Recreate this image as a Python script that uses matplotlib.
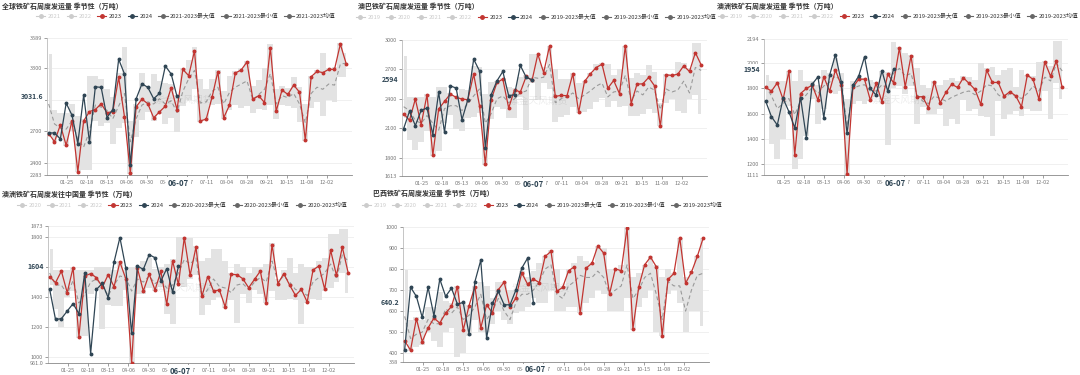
import numpy as np
import pandas as pd
import matplotlib
matplotlib.use("Agg")
import matplotlib.pyplot as plt
import matplotlib.dates as mdates
from matplotlib.lines import Line2D
from matplotlib.transforms import offset_copy

plt.rcParams['font.family'] = ['Noto Sans CJK SC', 'DejaVu Sans']

# ---------------- data ----------------
week_dates = pd.date_range('2024-01-03', periods=52, freq='7D')
xtick_labels = ['01-25', '02-18', '03-13', '04-06', '04-30', '05-24', '06-17',
                '07-11', '08-04', '08-28', '09-21', '10-15', '11-08', '12-02']
pointer_date = '06-07'

titles = ['全球铁矿石周度发运量 季节性（万吨）', '澳巴铁矿石周度发运量 季节性（万吨）',
          '澳洲铁矿石周度发运量 季节性（万吨）', '澳洲铁矿石周度发往中国量 季节性（万吨）',
          '巴西铁矿石周度发运量 季节性（万吨）']
legend_years = [['2021', '2022'], ['2019', '2020', '2021', '2022'], ['2019', '2020', '2021', '2022'],
                ['2020', '2021', '2022'], ['2019', '2020', '2021', '2022']]
range_labels = ['2021-2023', '2019-2023', '2019-2023', '2020-2023', '2019-2023']

# 全球
gl_2023 = [2678, 2601, 2760, 2566, 2799, 2314, 2799, 2888, 2907, 2962, 2876, 2888, 3214, 2837, 2301, 2933,
           3006, 2962, 2828, 2885, 2939, 3115, 2907, 3290, 3230, 3466, 2799, 2815, 3022, 3268, 2828, 2949,
           3255, 3284, 3361, 3006, 3038, 2974, 3498, 2891, 3093, 3051, 3140, 3073, 2614, 3220, 3271, 3259,
           3290, 3290, 3530, 3345]
gl_2024 = [2684, 2684, 2627, 2968, 2853, 2582, 3045, 2595, 3124, 3118, 2831, 2907, 3386, 3246, 2381, 3010,
           3153, 3118, 3010, 3061, 3322, 3246, 3031.6]
gl_max = [3440, 2900, 2870, 2870, 2960, 2850, 2820, 3230, 3230, 3200, 3100, 3030, 3260, 3500, 2800, 2960,
          3260, 3120, 3250, 3180, 3160, 3150, 3050, 3300, 3380, 3500, 3200, 3100, 3200, 3280, 3080, 3230,
          3270, 3300, 3370, 3130, 3190, 3300, 3530, 3100, 3130, 3110, 3220, 3120, 2960, 3230, 3280, 3450,
          3300, 3310, 3540, 3450]
gl_min = [2670, 2600, 2640, 2560, 2700, 2310, 2330, 2330, 2800, 2750, 2780, 2580, 2730, 2780, 2290, 2650,
          2810, 2880, 2800, 2860, 2770, 2830, 2690, 2940, 3000, 3100, 2790, 2810, 2950, 2960, 2820, 2900,
          2950, 2920, 2940, 2870, 2910, 2900, 2950, 2820, 2950, 2940, 2920, 2790, 2610, 2920, 2980, 2850,
          3000, 2980, 3220, 3220]
gl_mean = [2960, 2770, 2730, 2720, 2800, 2620, 2550, 2700, 2950, 2930, 2900, 2820, 2940, 3060, 2600, 2820,
           2950, 2980, 2960, 3010, 2960, 2990, 2880, 3080, 3200, 3280, 2970, 2980, 3080, 3120, 2960, 3070,
           3120, 3150, 3180, 3000, 3050, 3100, 3250, 2960, 3040, 3020, 3060, 2960, 2780, 3060, 3120, 3100,
           3150, 3140, 3340, 3350]

# 澳巴
ab_2023 = [2249, 2181, 2398, 2137, 2442, 1826, 2296, 2374, 2449, 2415, 2398, 2391, 2652, 2330, 1731, 2391,
           2567, 2601, 2306, 2493, 2469, 2628, 2587, 2855, 2668, 2939, 2425, 2435, 2432, 2655, 2263, 2577,
           2655, 2719, 2753, 2509, 2587, 2452, 2939, 2350, 2550, 2553, 2618, 2533, 2120, 2645, 2638, 2652,
           2736, 2679, 2871, 2746]
ab_2024 = [2097, 2273, 2127, 2283, 2306, 2036, 2466, 2060, 2533, 2509, 2188, 2391, 2804, 2685, 1901, 2442,
           2584, 2679, 2432, 2442, 2740, 2621, 2594]
ab_max = [2840, 2420, 2420, 2420, 2450, 2420, 2520, 2520, 2460, 2430, 2500, 2490, 2730, 2720, 2450, 2570,
          2580, 2610, 2520, 2510, 2620, 2640, 2860, 2860, 2720, 2940, 2700, 2600, 2600, 2660, 2560, 2580,
          2660, 2760, 2770, 2760, 2640, 2700, 2940, 2610, 2660, 2640, 2740, 2670, 2360, 2650, 2650, 2780,
          2770, 2710, 2970, 2970]
ab_min = [2200, 1980, 1880, 1960, 2070, 1820, 1870, 2150, 2240, 2090, 2070, 2200, 2210, 2260, 1730, 2190,
          2320, 2300, 2200, 2200, 2420, 2080, 2560, 2390, 2560, 2500, 2160, 2210, 2240, 2320, 2260, 2270,
          2300, 2370, 2410, 2320, 2380, 2320, 2330, 2230, 2220, 2250, 2300, 2260, 2120, 2360, 2400, 2280,
          2260, 2400, 2440, 2250]
ab_mean = [2320, 2280, 2180, 2150, 2230, 2150, 2080, 2300, 2330, 2330, 2280, 2350, 2430, 2500, 2150, 2250,
           2400, 2430, 2360, 2400, 2460, 2480, 2620, 2610, 2620, 2750, 2360, 2400, 2420, 2460, 2400, 2440,
           2480, 2530, 2560, 2420, 2470, 2480, 2640, 2380, 2480, 2440, 2520, 2490, 2290, 2500, 2470, 2490,
           2580, 2460, 2720, 2690]

# 澳洲
au_2023 = [1808, 1779, 1845, 1713, 1938, 1270, 1760, 1800, 1826, 1707, 1893, 1779, 1946, 1826, 1117, 1808,
           1874, 1874, 1707, 1840, 1694, 1914, 1845, 2123, 1813, 2060, 1734, 1734, 1646, 1853, 1686, 1768,
           1834, 1808, 1885, 1840, 1792, 1673, 1946, 1848, 1848, 1739, 1774, 1742, 1654, 1906, 1872, 1715,
           2012, 1898, 2020, 1808]
au_2024 = [1699, 1575, 1509, 1721, 1615, 1487, 1728, 1408, 1834, 1893, 1567, 1906, 2070, 1853, 1442, 1826,
           1898, 2052, 1800, 1747, 1940, 1779, 1954]
au_max = [1910, 1860, 1860, 1860, 1940, 1860, 1950, 1860, 1860, 1830, 1950, 1920, 2040, 1920, 1720, 1860,
          1880, 1880, 1870, 1850, 1940, 1930, 2170, 2130, 2080, 2070, 1960, 1830, 1800, 1860, 1830, 1870,
          1880, 1860, 1900, 1890, 1870, 2000, 1960, 1970, 1910, 1950, 1960, 1810, 1950, 1910, 1900, 2010,
          2020, 1980, 2180, 2180]
au_min = [1680, 1360, 1240, 1400, 1660, 1160, 1240, 1420, 1720, 1520, 1640, 1770, 1760, 1780, 1111, 1680,
          1700, 1680, 1700, 1730, 1690, 1350, 1800, 1820, 1760, 1820, 1520, 1650, 1600, 1600, 1640, 1500,
          1560, 1520, 1710, 1620, 1640, 1580, 1570, 1420, 1700, 1560, 1600, 1620, 1580, 1640, 1620, 1620,
          1780, 1560, 1840, 1720]
au_mean = [1820, 1740, 1640, 1680, 1720, 1590, 1700, 1750, 1810, 1760, 1820, 1850, 1900, 1860, 1500, 1800,
           1820, 1830, 1780, 1780, 1830, 1800, 1920, 1960, 1900, 1920, 1750, 1700, 1680, 1740, 1720, 1700,
           1730, 1750, 1770, 1780, 1750, 1780, 1830, 1820, 1750, 1720, 1760, 1740, 1720, 1760, 1820, 1780,
           1890, 1860, 2000, 1940]

# 澳洲发往中国
ac_2023 = [1536, 1496, 1573, 1429, 1596, 1136, 1540, 1556, 1529, 1467, 1549, 1469, 1633, 1522, 962, 1591,
           1440, 1553, 1447, 1571, 1351, 1640, 1484, 1796, 1544, 1733, 1404, 1536, 1440, 1447, 1333, 1551,
           1549, 1522, 1462, 1518, 1573, 1362, 1749, 1489, 1556, 1480, 1411, 1451, 1367, 1580, 1607, 1451,
           1713, 1544, 1733, 1562]
ac_2024 = [1451, 1251, 1256, 1307, 1356, 1289, 1562, 1024, 1451, 1491, 1396, 1633, 1796, 1596, 1158, 1607,
           1584, 1682, 1662, 1507, 1589, 1433, 1604]
ac_max = [1720, 1580, 1580, 1580, 1600, 1580, 1580, 1580, 1600, 1600, 1600, 1580, 1640, 1580, 1600, 1600,
          1640, 1660, 1590, 1600, 1620, 1650, 1800, 1800, 1790, 1740, 1640, 1660, 1720, 1720, 1640, 1560,
          1620, 1600, 1560, 1600, 1600, 1620, 1760, 1520, 1580, 1660, 1560, 1620, 1600, 1600, 1640, 1660,
          1820, 1820, 1850, 1850]
ac_min = [1480, 1320, 1200, 1400, 1440, 1130, 1140, 1420, 1460, 1190, 1350, 1340, 1340, 1450, 961, 1420,
          1420, 1460, 1440, 1470, 1290, 1220, 1480, 1470, 1520, 1550, 1280, 1350, 1380, 1400, 1330, 1380,
          1230, 1420, 1360, 1450, 1420, 1360, 1440, 1380, 1380, 1390, 1380, 1220, 1360, 1390, 1380, 1440,
          1460, 1500, 1560, 1430]
ac_mean = [1560, 1480, 1480, 1420, 1510, 1360, 1420, 1500, 1520, 1470, 1410, 1480, 1540, 1530, 1440, 1520,
           1500, 1540, 1490, 1510, 1460, 1480, 1560, 1650, 1620, 1660, 1400, 1450, 1520, 1470, 1460, 1430,
           1480, 1490, 1450, 1500, 1530, 1500, 1640, 1500, 1540, 1500, 1450, 1440, 1410, 1500, 1530, 1560,
           1620, 1520, 1680, 1640]

# 巴西
br_2023 = [459, 414, 564, 455, 520, 567, 543, 591, 622, 717, 509, 626, 717, 520, 630, 591, 702, 738, 619, 662,
           782, 728, 752, 736, 860, 884, 694, 713, 792, 811, 591, 804, 828, 910, 876, 681, 801, 792, 997, 516,
           716, 820, 857, 811, 482, 751, 779, 950, 733, 785, 860, 947]
br_2024 = [417, 714, 670, 570, 713, 578, 752, 670, 709, 634, 641, 490, 740, 842, 471, 638, 694, 630, 630, 700,
           804, 852, 640.2]
br_max = [795, 560, 570, 560, 620, 620, 690, 650, 640, 720, 640, 630, 720, 740, 720, 660, 740, 740, 700, 700,
          790, 760, 790, 830, 860, 890, 800, 720, 800, 830, 860, 840, 830, 910, 900, 800, 800, 820, 1000, 760,
          780, 820, 860, 820, 760, 800, 780, 950, 760, 790, 860, 950]
br_min = [450, 410, 430, 440, 500, 460, 430, 500, 520, 380, 400, 480, 560, 500, 500, 540, 600, 560, 540, 590,
          600, 620, 660, 640, 640, 700, 600, 600, 620, 620, 590, 640, 660, 700, 680, 600, 600, 600, 660, 510,
          620, 660, 700, 500, 480, 680, 700, 640, 500, 600, 600, 530]
br_mean = [575, 470, 490, 500, 560, 540, 540, 610, 590, 620, 560, 580, 620, 680, 560, 600, 660, 600, 560, 640,
           680, 680, 700, 740, 800, 820, 680, 660, 720, 740, 770, 760, 760, 790, 760, 680, 700, 720, 820, 660,
           700, 760, 780, 680, 560, 740, 720, 720, 600, 700, 770, 780]

yticks = [[2283, 2400, 2700, 3000, 3300, 3589],
          [1613, 1800, 2100, 2400, 2700, 3000],
          [1111, 1200, 1400, 1600, 1800, 2000, 2194],
          [961.0, 1000, 1200, 1400, 1600, 1800, 1873],
          [358, 400, 500, 600, 700, 800, 900, 1000]]
ytick_text = [['2283', '2400', '2700', '3000', '3300', '3589'],
              ['1613', '1800', '2100', '2400', '2700', '3000'],
              ['1111', '1200', '1400', '1600', '1800', '2000', '2194'],
              ['961.0', '1000', '1200', '1400', '1600', '1800', '1873'],
              ['358', '400', '500', '600', '700', '800', '900', '1000']]
pointer_vals = ['3031.6', '2594', '1954', '1604', '640.2']

series = [(gl_2023, gl_2024, gl_max, gl_min, gl_mean),
          (ab_2023, ab_2024, ab_max, ab_min, ab_mean),
          (au_2023, au_2024, au_max, au_min, au_mean),
          (ac_2023, ac_2024, ac_max, ac_min, ac_mean),
          (br_2023, br_2024, br_max, br_min, br_mean)]

# ---------------- layout ----------------
W, H = 1080, 375
fig = plt.figure(figsize=(W / 100, H / 100), dpi=100)
fig.patch.set_facecolor('white')

def fx(px):
    return px / W

def fy(py):
    return 1 - py / H

axes_px = [(47, 38, 352, 175), (402, 40, 707, 176), (764, 39, 1068, 175),
           (48, 226, 354, 363), (403, 227, 709, 362)]
title_px = [(2, 6), (358, 6), (717, 6), (2, 194), (373, 193)]
legend_px = [(186, 16), (536, 17), (898, 16), (182, 205), (542, 205)]

RED = '#c23531'
NAVY = '#2f4554'
BAND = '#e3e3e3'
MEANC = '#9a9a9a'

xnum = mdates.date2num(week_dates)
tick_nums = mdates.date2num(pd.to_datetime(['2024-' + t for t in xtick_labels]))
x0 = mdates.date2num(pd.Timestamp('2024-01-01'))
x1 = mdates.date2num(pd.Timestamp('2025-01-01'))
ptr_x = mdates.date2num(pd.Timestamp('2024-' + pointer_date))

for i in range(5):
    l, t, r, b = axes_px[i]
    ax = fig.add_axes([fx(l), fy(b), fx(r - l), (b - t) / H])
    v23, v24, vmax, vmin, vmean = series[i]
    ax.fill_between(xnum, vmin, vmax, step='mid', color=BAND, lw=0, zorder=1)
    ax.plot(xnum, vmean, color=MEANC, lw=0.8, ls=(0, (3.5, 2.5)), zorder=2)
    ax.plot(xnum, v23, color=RED, lw=0.9, marker='o', ms=1.8, zorder=3)
    ax.plot(xnum[:len(v24)], v24, color=NAVY, lw=0.9, marker='o', ms=1.8, zorder=4)

    ax.set_xlim(x0, x1)
    ax.set_ylim(yticks[i][0], yticks[i][-1])
    ax.set_yticks(yticks[i])
    ax.set_yticklabels(ytick_text[i])
    ax.set_xticks(tick_nums)
    ax.set_xticklabels(xtick_labels)
    ax.tick_params(axis='both', labelsize=4, colors='#777777', length=2, width=0.5, pad=1.5)
    for yv in yticks[i]:
        ax.axhline(yv, color='#eeeeee', lw=0.6, zorder=0)
    for s in ['top', 'right']:
        ax.spines[s].set_visible(False)
    ax.spines['left'].set_color('#bbbbbb')
    ax.spines['bottom'].set_color('#888888')
    ax.spines['left'].set_linewidth(0.6)
    ax.spines['bottom'].set_linewidth(0.6)

    # watermark
    ax.text(0.45, 0.55, '紫金天风期货', transform=ax.transAxes, fontsize=7, color='#000000',
            alpha=0.07, ha='center', va='center', zorder=5)

    # axis pointer labels
    ax.text(-0.012, float(pointer_vals[i]), pointer_vals[i], transform=ax.get_yaxis_transform(),
            ha='right', va='center', fontsize=5, fontweight='bold', color=NAVY, zorder=10,
            clip_on=False, bbox=dict(boxstyle='square,pad=0.25', fc='white', ec='none'))
    ptr_tr = offset_copy(ax.get_xaxis_transform(), fig=fig, x=0, y=-8, units='dots')
    ax.text(ptr_x, 0, pointer_date, transform=ptr_tr,
            ha='center', va='center', fontsize=5.5, fontweight='bold', color=NAVY, zorder=10,
            clip_on=False, bbox=dict(boxstyle='square,pad=0.25', fc='white', ec='none'))

    # title
    tx, ty = title_px[i]
    fig.text(fx(tx), fy(ty), titles[i], fontsize=5, fontweight='bold', color='#333333',
             ha='left', va='center')

    # legend
    handles, labels, tcolors = [], [], []
    for yr in legend_years[i]:
        handles.append(Line2D([0], [0], color='#cccccc', lw=0.8, marker='o', ms=2.5))
        labels.append(yr)
        tcolors.append('#cccccc')
    handles.append(Line2D([0], [0], color=RED, lw=0.8, marker='o', ms=2.5))
    labels.append('2023'); tcolors.append('#333333')
    handles.append(Line2D([0], [0], color=NAVY, lw=0.8, marker='o', ms=2.5))
    labels.append('2024'); tcolors.append('#333333')
    for suf in ['最大值', '最小值', '均值']:
        handles.append(Line2D([0], [0], color='#666666', lw=0.8, marker='o', ms=2.5))
        labels.append(range_labels[i] + suf); tcolors.append('#333333')
    lx, ly = legend_px[i]
    leg = fig.legend(handles, labels, loc='center', bbox_to_anchor=(fx(lx), fy(ly)),
                     bbox_transform=fig.transFigure, ncol=len(labels), frameon=False,
                     fontsize=4.2, handlelength=1.6, handletextpad=0.4, columnspacing=1.0,
                     borderpad=0, borderaxespad=0)
    for txt, c in zip(leg.get_texts(), tcolors):
        txt.set_color(c)

fig.savefig('out.png', dpi=100, facecolor='white')
